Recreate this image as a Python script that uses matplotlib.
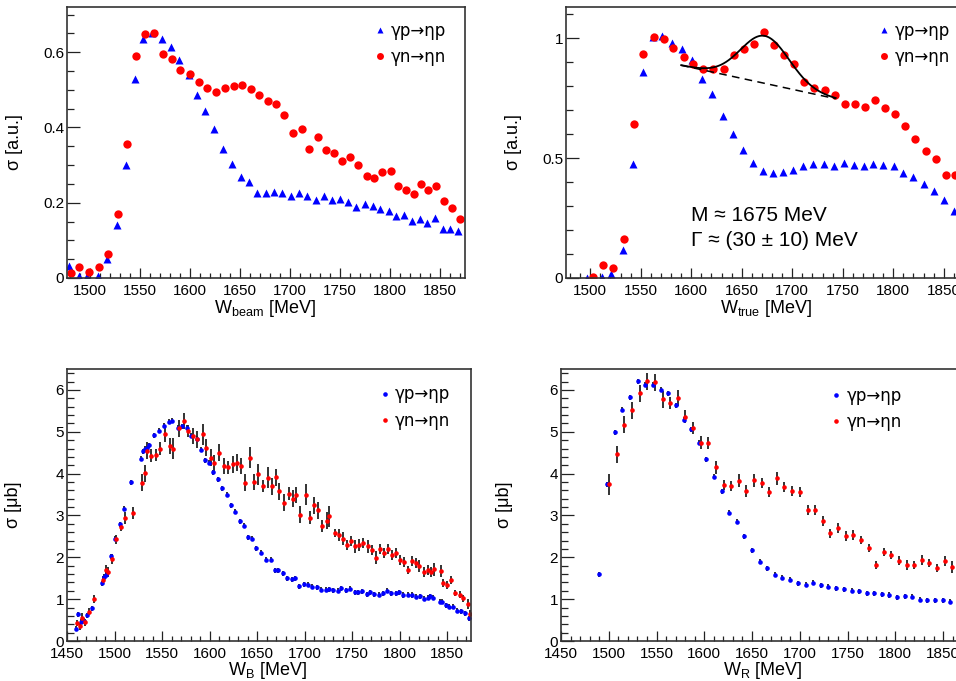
"""Eta photoproduction cross sections on proton and neutron: four-panel comparison."""

import matplotlib
matplotlib.use("Agg")
import numpy as np
import matplotlib.pyplot as plt
from matplotlib.lines import Line2D
from matplotlib.ticker import MultipleLocator, FuncFormatter

plt.rcParams["font.family"] = ["Liberation Sans", "DejaVu Sans"]
plt.rcParams["mathtext.fontset"] = "custom"
plt.rcParams["mathtext.rm"] = "Liberation Sans"
plt.rcParams["mathtext.it"] = "Liberation Sans:italic"

# ---- W_beam, arbitrary units -------------------------------------------
beam_p_x = [1479, 1489, 1497, 1508, 1517, 1527, 1536, 1545, 1553, 1562,
            1572, 1581, 1589, 1599, 1607, 1615, 1624, 1633, 1642, 1651,
            1659, 1667, 1676, 1684, 1692, 1701, 1709, 1717, 1726, 1734,
            1742, 1750, 1758, 1766, 1775, 1783, 1790, 1799, 1806, 1814,
            1822, 1830, 1837, 1845, 1853, 1860, 1868]
beam_p_y = [0.031, 0.005, 0.006, 0.005, 0.050, 0.140, 0.301, 0.530, 0.634, 0.651,
            0.634, 0.613, 0.580, 0.539, 0.485, 0.445, 0.395, 0.343, 0.302, 0.269,
            0.256, 0.227, 0.226, 0.228, 0.226, 0.218, 0.227, 0.217, 0.207, 0.217,
            0.208, 0.210, 0.203, 0.188, 0.197, 0.191, 0.184, 0.177, 0.164, 0.168,
            0.151, 0.158, 0.146, 0.159, 0.129, 0.131, 0.126]
beam_n_x = [1481, 1489, 1499, 1509, 1518, 1528, 1537, 1546, 1555, 1564,
            1573, 1582, 1590, 1600, 1609, 1617, 1626, 1635, 1644, 1652,
            1661, 1669, 1678, 1686, 1694, 1703, 1712, 1719, 1728, 1736,
            1744, 1752, 1760, 1768, 1777, 1784, 1792, 1801, 1808, 1816,
            1824, 1831, 1838, 1846, 1854, 1862, 1870]
beam_n_y = [0.013, 0.028, 0.016, 0.030, 0.064, 0.169, 0.356, 0.590, 0.649, 0.652,
            0.595, 0.582, 0.553, 0.543, 0.522, 0.505, 0.494, 0.505, 0.510, 0.514,
            0.502, 0.487, 0.469, 0.461, 0.432, 0.386, 0.395, 0.342, 0.374, 0.340,
            0.332, 0.310, 0.322, 0.300, 0.271, 0.266, 0.281, 0.284, 0.245, 0.235,
            0.223, 0.249, 0.235, 0.245, 0.204, 0.186, 0.157]

# ---- W_true, arbitrary units -------------------------------------------
true_p_x = [1497, 1512, 1521, 1532, 1542, 1552, 1562, 1571, 1581, 1591,
            1601, 1611, 1621, 1631, 1641, 1651, 1661, 1671, 1681, 1691,
            1701, 1711, 1721, 1731, 1741, 1751, 1761, 1771, 1780, 1790,
            1801, 1810, 1820, 1830, 1840, 1850, 1860]
true_p_y = [0.0, 0.004, 0.017, 0.118, 0.475, 0.857, 1.003, 1.010, 0.978, 0.956,
            0.908, 0.831, 0.767, 0.674, 0.601, 0.535, 0.479, 0.447, 0.436, 0.442,
            0.450, 0.468, 0.475, 0.475, 0.468, 0.479, 0.471, 0.468, 0.475, 0.472,
            0.467, 0.439, 0.422, 0.394, 0.362, 0.325, 0.281]
true_n_x = [1503, 1513, 1522, 1533, 1543, 1552, 1563, 1573, 1582, 1593,
            1602, 1612, 1622, 1632, 1642, 1652, 1662, 1672, 1682, 1692,
            1702, 1712, 1722, 1732, 1742, 1752, 1762, 1772, 1782, 1792,
            1802, 1812, 1822, 1832, 1842, 1852, 1861]
true_n_y = [0.004, 0.053, 0.042, 0.161, 0.644, 0.935, 1.007, 0.997, 0.957, 0.921,
            0.892, 0.872, 0.871, 0.872, 0.928, 0.956, 0.976, 1.026, 0.971, 0.931,
            0.894, 0.819, 0.792, 0.785, 0.761, 0.725, 0.725, 0.714, 0.742, 0.710,
            0.685, 0.632, 0.579, 0.531, 0.496, 0.429, 0.429]

# Gaussian peak on a linear background fitted to the neutron W_true data
fit_lo, fit_hi = 1590, 1743
fit_bg0, fit_slope = 0.887, -0.000911
fit_mass, fit_sigma, fit_amp = 1673, 24, 0.198

# ---- W_B, microbarn -----------------------------------------------------
wb_p_x = [1459, 1462, 1465, 1467.5, 1471, 1476.6, 1486.4, 1488.5, 1491.3, 1495.9,
          1500.5, 1506, 1509.6, 1517.6, 1527.8, 1530.2, 1532.3, 1534.4, 1536.5, 1541.8,
          1546.7, 1551.6, 1556.9, 1560.4, 1566.3, 1570.9, 1575.8, 1580.3, 1586.3, 1590.9,
          1595, 1599.3, 1603.1, 1608.7, 1613.3, 1617.8, 1622.4, 1627, 1631.5, 1636,
          1640.3, 1644.5, 1649, 1653.9, 1659.5, 1664.1, 1668.3, 1672.2, 1676.7, 1681.3,
          1686.2, 1689.7, 1693.9, 1699.1, 1703.7, 1708.2, 1712.8, 1717.3, 1722.6, 1725.7,
          1730.3, 1735.2, 1738.7, 1743.3, 1747.5, 1752.7, 1756.6, 1760.8, 1765.3, 1769.2,
          1773.4, 1778, 1782.2, 1786.4, 1791, 1795.8, 1799.7, 1803.9, 1808.2, 1812.7,
          1817.2, 1821.4, 1825.6, 1829.5, 1831.6, 1834.7, 1842.5, 1844.9, 1848.4, 1851.5,
          1855.7, 1860.3, 1864.8, 1869, 1872.9]
wb_p_y = [0.29, 0.64, 0.46, 0.48, 0.61, 0.78, 1.38, 1.53, 1.58, 2.02,
          2.44, 2.79, 3.16, 3.80, 4.36, 4.54, 4.59, 4.61, 4.68, 4.92,
          5.03, 5.15, 5.24, 5.26, 5.10, 5.13, 5.10, 4.90, 4.83, 4.57,
          4.32, 4.26, 4.03, 3.87, 3.65, 3.50, 3.24, 3.09, 2.86, 2.75,
          2.48, 2.45, 2.22, 2.11, 1.94, 1.94, 1.69, 1.69, 1.62, 1.50,
          1.48, 1.50, 1.31, 1.36, 1.34, 1.30, 1.28, 1.22, 1.22, 1.24,
          1.21, 1.20, 1.26, 1.21, 1.25, 1.16, 1.17, 1.19, 1.12, 1.16,
          1.12, 1.11, 1.14, 1.20, 1.14, 1.14, 1.16, 1.10, 1.11, 1.10,
          1.06, 1.07, 1.01, 1.03, 1.07, 1.03, 0.94, 0.94, 0.86, 0.82,
          0.82, 0.72, 0.71, 0.66, 0.54]
wb_n_x = [1460.5, 1463.7, 1466.1, 1469.3, 1473.1, 1478.4, 1487.8, 1490.6, 1493.1, 1496.9,
          1501.9, 1507.1, 1511, 1519, 1529.2, 1531.6, 1534.1, 1538, 1543.2, 1548.1,
          1553, 1557.9, 1561.8, 1568.1, 1572.6, 1577.2, 1582.1, 1586.6, 1593, 1596.5,
          1601, 1604.5, 1610.1, 1615, 1619.2, 1624.1, 1628.3, 1632.9, 1637.5, 1642,
          1646.2, 1650.4, 1656, 1661.3, 1665.5, 1669.7, 1673.5, 1678.1, 1683.3, 1687.9,
          1691.4, 1695.6, 1701.2, 1705.1, 1710, 1713.8, 1718.4, 1723.3, 1726.1, 1731.7,
          1736.3, 1740.5, 1744.7, 1749.2, 1753.4, 1757.3, 1761.8, 1766.1, 1770.6, 1774.8,
          1779.4, 1783.9, 1787.8, 1791.6, 1796.2, 1800.4, 1804.3, 1808.5, 1813.1, 1816.9,
          1820.1, 1825.3, 1829.5, 1833, 1835.9, 1843.6, 1845.7, 1849.6, 1853.8, 1858.3,
          1862.9, 1866.7, 1871.6, 1874.3]
wb_n_y = [0.43, 0.35, 0.56, 0.45, 0.70, 1.01, 1.45, 1.70, 1.65, 1.95,
          2.43, 2.72, 2.94, 3.06, 3.78, 4.01, 4.55, 4.43, 4.45, 4.60,
          4.95, 4.66, 4.60, 5.08, 5.26, 5.02, 4.90, 4.82, 4.94, 4.62,
          4.38, 4.25, 4.50, 4.18, 4.15, 4.22, 4.26, 4.18, 3.78, 4.38,
          3.80, 3.98, 3.70, 3.90, 3.70, 3.91, 3.58, 3.31, 3.52, 3.40,
          3.49, 3.02, 3.50, 2.95, 3.24, 3.12, 2.75, 2.88, 2.98, 2.58,
          2.53, 2.45, 2.29, 2.38, 2.26, 2.30, 2.35, 2.26, 2.18, 1.99,
          2.20, 2.10, 2.20, 2.06, 2.10, 1.94, 1.88, 1.70, 1.91, 1.87,
          1.79, 1.66, 1.70, 1.66, 1.71, 1.67, 1.38, 1.34, 1.46, 1.15,
          1.11, 1.02, 0.88, 0.64]
wb_n_err = [0.08, 0.08, 0.10, 0.08, 0.08, 0.10, 0.10, 0.12, 0.12, 0.12,
            0.10, 0.10, 0.15, 0.15, 0.20, 0.20, 0.20, 0.15, 0.15, 0.15,
            0.20, 0.20, 0.25, 0.20, 0.20, 0.15, 0.20, 0.20, 0.25, 0.20,
            0.20, 0.20, 0.20, 0.20, 0.15, 0.20, 0.20, 0.20, 0.20, 0.25,
            0.20, 0.25, 0.15, 0.25, 0.20, 0.20, 0.20, 0.20, 0.15, 0.20,
            0.20, 0.20, 0.25, 0.15, 0.20, 0.20, 0.15, 0.20, 0.25, 0.10,
            0.15, 0.15, 0.12, 0.12, 0.15, 0.15, 0.12, 0.15, 0.12, 0.15,
            0.12, 0.12, 0.12, 0.12, 0.12, 0.12, 0.12, 0.10, 0.12, 0.12,
            0.15, 0.12, 0.12, 0.12, 0.15, 0.15, 0.10, 0.10, 0.10, 0.08,
            0.08, 0.08, 0.12, 0.10]

# ---- W_R, microbarn -----------------------------------------------------
wr_p_x = [1490.2, 1497.9, 1506.3, 1514.3, 1522.4, 1530.1, 1538.1, 1546.5, 1554.2, 1562.2,
          1570.3, 1578.3, 1586.4, 1594.1, 1602.1, 1610.1, 1618.2, 1626.2, 1633.9, 1642,
          1650, 1658, 1666.1, 1674.1, 1681.8, 1689.9, 1698.3, 1706, 1714, 1721.7,
          1729.7, 1737.8, 1746.2, 1754.2, 1761.9, 1769.9, 1778, 1785.7, 1793.7, 1801.7,
          1809.8, 1817.8, 1825.9, 1833.6, 1841.6, 1849.7, 1857.7]
wr_p_y = [1.59, 3.75, 4.99, 5.53, 5.82, 6.21, 6.12, 6.13, 6.01, 5.92,
          5.63, 5.29, 5.06, 4.74, 4.34, 3.93, 3.58, 3.06, 2.85, 2.50,
          2.17, 1.89, 1.74, 1.58, 1.51, 1.46, 1.38, 1.35, 1.39, 1.33,
          1.30, 1.26, 1.24, 1.20, 1.19, 1.14, 1.14, 1.12, 1.10, 1.05,
          1.07, 1.06, 0.99, 0.98, 0.98, 0.98, 0.94]
wr_n_x = [1500.3, 1508.4, 1516.4, 1524.1, 1532.2, 1540.2, 1548.3, 1556.3, 1564.3, 1572.4,
          1580.1, 1588.1, 1596.2, 1604.2, 1612.2, 1620.3, 1628, 1636.4, 1644.1, 1652.1,
          1660.1, 1668.2, 1676.2, 1683.9, 1692.3, 1700, 1708.4, 1716.1, 1724.1, 1731.8,
          1740.2, 1747.9, 1756, 1764, 1772, 1779.7, 1788.1, 1795.8, 1803.8, 1811.9,
          1819.6, 1827.6, 1835.7, 1843.7, 1851.7, 1859.8]
wr_n_y = [3.75, 4.46, 5.17, 5.51, 5.92, 6.21, 6.18, 5.78, 5.69, 5.81,
          5.36, 5.09, 4.74, 4.73, 4.15, 3.72, 3.71, 3.83, 3.59, 3.84,
          3.78, 3.56, 3.89, 3.68, 3.59, 3.56, 3.14, 3.14, 2.86, 2.57,
          2.71, 2.51, 2.53, 2.41, 2.23, 1.82, 2.13, 2.05, 1.92, 1.81,
          1.81, 1.93, 1.87, 1.75, 1.92, 1.77]
wr_n_err = [0.25, 0.20, 0.20, 0.20, 0.20, 0.20, 0.20, 0.20, 0.15, 0.20,
            0.15, 0.15, 0.15, 0.15, 0.15, 0.12, 0.12, 0.15, 0.15, 0.15,
            0.12, 0.12, 0.15, 0.12, 0.12, 0.12, 0.12, 0.12, 0.12, 0.10,
            0.12, 0.12, 0.12, 0.10, 0.10, 0.10, 0.10, 0.10, 0.10, 0.12,
            0.10, 0.12, 0.10, 0.10, 0.12, 0.15]
proton_err = 0.06

label_p = "γp→ηp"
label_n = "γn→ηn"
BLUE, RED = "#0000ff", "#ff0000"

fig = plt.figure(figsize=(9.56, 6.81), dpi=100)
# right-hand panels run past the figure edge
ax_tl = fig.add_axes([0.0701, 0.5918, 0.4163, 0.3979])
ax_tr = fig.add_axes([0.5921, 0.5918, 0.4215, 0.3979])
ax_bl = fig.add_axes([0.0701, 0.0587, 0.4226, 0.3994])
ax_br = fig.add_axes([0.5868, 0.0587, 0.4247, 0.3994])


def fmt_tick(v, _pos):
    return f"{v:g}"


def style(ax, xlim, ylim, ymajor, yminor, xlabel, ylabel, xlab_y, ylab_x):
    ax.set_xlim(*xlim)
    ax.set_ylim(*ylim)
    ax.xaxis.set_major_locator(MultipleLocator(50))
    ax.xaxis.set_minor_locator(MultipleLocator(10))
    ax.yaxis.set_major_locator(MultipleLocator(ymajor))
    ax.yaxis.set_minor_locator(MultipleLocator(yminor))
    ax.yaxis.set_major_formatter(FuncFormatter(fmt_tick))
    ax.tick_params(axis="both", which="both", direction="in", labelsize=11,
                   width=0.9, color="#222222")
    ax.tick_params(axis="x", which="major", length=7, pad=4)
    ax.tick_params(axis="x", which="minor", length=3.6)
    ax.tick_params(axis="y", which="major", length=9, pad=2)
    ax.tick_params(axis="y", which="minor", length=4.8)
    for sp in ax.spines.values():
        sp.set_linewidth(1.2)
        sp.set_color("#333333")
    ax.set_xlabel(xlabel, fontsize=13)
    ax.set_ylabel(ylabel, fontsize=13)
    ax.xaxis.set_label_coords(0.497, xlab_y)
    ax.yaxis.set_label_coords(ylab_x, 0.5)


def add_legend(ax, handles, anchor):
    # DejaVu Sans gives the arrow a full-width shaft
    ax.legend(handles=handles, labels=[label_p, label_n], loc="upper left",
              bbox_to_anchor=anchor, frameon=False,
              prop={"family": "DejaVu Sans", "size": 12},
              handlelength=0.65, handletextpad=0.3, labelspacing=0.5,
              borderpad=0, borderaxespad=0)


# top-left: W_beam
ax_tl.plot(beam_p_x, beam_p_y, ls="none", marker="^", ms=5.5, color=BLUE, mec="none")
ax_tl.plot(beam_n_x, beam_n_y, ls="none", marker="o", ms=6, color=RED, mec="none")
style(ax_tl, (1477, 1875), (0, 0.72), 0.2, 0.05,
      r"W$_{\mathrm{beam}}$ [MeV]", "σ [a.u.]", -0.075, -0.11)
add_legend(ax_tl, [Line2D([], [], ls="none", marker="^", ms=4.5, color=BLUE, mec="none"),
                   Line2D([], [], ls="none", marker="o", ms=5, color=RED, mec="none")],
           (0.773, 0.945))

# top-right: W_true with the peak fit
ax_tr.plot(true_p_x, true_p_y, ls="none", marker="^", ms=5.5, color=BLUE, mec="none")
ax_tr.plot(true_n_x, true_n_y, ls="none", marker="o", ms=6, color=RED, mec="none")
w = np.linspace(fit_lo, fit_hi, 300)
bg = fit_bg0 + fit_slope * (w - fit_lo)
peak = fit_amp * np.exp(-0.5 * ((w - fit_mass) / fit_sigma) ** 2)
ax_tr.plot(w, bg + peak, color="black", lw=1.3)
ax_tr.plot(w, bg, color="black", lw=1.1, ls=(0, (5, 3.5)))
style(ax_tr, (1476, 1875), (0, 1.13), 0.5, 0.1,
      r"W$_{\mathrm{true}}$ [MeV]", "σ [a.u.]", -0.075, -0.11)
ax_tr.text(0.309, 0.232, "M ≈ 1675 MeV", transform=ax_tr.transAxes,
           fontsize=15, va="center", ha="left")
ax_tr.text(0.309, 0.137, "Γ ≈ (30 ± 10) MeV", transform=ax_tr.transAxes,
           fontsize=15, va="center", ha="left")
add_legend(ax_tr, [Line2D([], [], ls="none", marker="^", ms=4.5, color=BLUE, mec="none"),
                   Line2D([], [], ls="none", marker="o", ms=5, color=RED, mec="none")],
           (0.776, 0.945))

# bottom panels: W_B and W_R with error bars
err_kw = dict(ls="none", marker="o", ms=3.3, mec="none", ecolor="#222222",
              elinewidth=1.3, capsize=0)
ax_bl.errorbar(wb_p_x, wb_p_y, yerr=proton_err, color=BLUE, **err_kw)
ax_bl.errorbar(wb_n_x, wb_n_y, yerr=wb_n_err, color=RED, **err_kw)
style(ax_bl, (1450, 1875), (0, 6.5), 1, 0.2,
      r"W$_{\mathrm{B}}$ [MeV]", "σ [μb]", -0.07, -0.112)

ax_br.errorbar(wr_p_x, wr_p_y, yerr=proton_err, color=BLUE, **err_kw)
ax_br.errorbar(wr_n_x, wr_n_y, yerr=wr_n_err, color=RED, **err_kw)
style(ax_br, (1450, 1875), (0, 6.5), 1, 0.2,
      r"W$_{\mathrm{R}}$ [MeV]", "σ [μb]", -0.07, -0.117)

for ax, anchor in ((ax_bl, (0.773, 0.94)), (ax_br, (0.665, 0.935))):
    add_legend(ax, [Line2D([], [], ls="none", marker="o", ms=3.3, color=BLUE, mec="none"),
                    Line2D([], [], ls="none", marker="o", ms=3.3, color=RED, mec="none")],
               anchor)

fig.savefig("out.png", dpi=100)
